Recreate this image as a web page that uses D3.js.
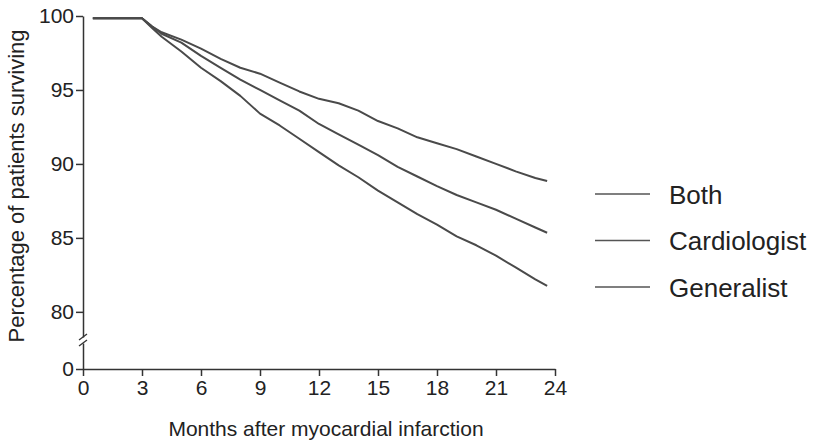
<!DOCTYPE html>
<html>
<head>
<meta charset="utf-8">
<script src="https://cdn.jsdelivr.net/npm/d3@7"></script>
<style>
  body { margin: 0; background: #fff; }
  text { font-family: "Liberation Sans", Arial, sans-serif; fill: #222; }
</style>
</head>
<body>
<div id="chart"></div>
<script>
// months after MI where the curves are sampled
var months = [0.5, 3, 3.5, 4, 5, 6, 7, 8, 9, 10, 11, 12, 13, 14, 15, 16, 17, 18, 19, 20, 21, 22, 23, 23.6];

var both = [99.85, 99.85, 99.3, 98.9, 98.4, 97.8, 97.1, 96.5, 96.1, 95.5, 94.9, 94.4, 94.1, 93.6, 92.9, 92.4, 91.8, 91.4, 91.0, 90.5, 90.0, 89.5, 89.05, 88.85];
var cardiologist = [99.85, 99.85, 99.3, 98.8, 98.2, 97.3, 96.5, 95.7, 95.0, 94.3, 93.6, 92.7, 92.0, 91.3, 90.6, 89.8, 89.15, 88.5, 87.9, 87.4, 86.9, 86.3, 85.7, 85.35];
var generalist = [99.85, 99.85, 99.2, 98.6, 97.6, 96.5, 95.6, 94.6, 93.4, 92.6, 91.7, 90.8, 89.9, 89.1, 88.2, 87.4, 86.6, 85.9, 85.1, 84.5, 83.8, 83.0, 82.2, 81.75];

var seriesNames = ["Both", "Cardiologist", "Generalist"];
var xTicks = [0, 3, 6, 9, 12, 15, 18, 21, 24];
var yTicks = [80, 85, 90, 95, 100];

var width = 815, height = 446;

var svg = d3.select("#chart")
    .append("svg")
    .attr("width", width)
    .attr("height", height);

// x scale and axis
var x = d3.scaleLinear()
    .domain([0, 24])
    .range([83, 555]);

// upper (broken) part of the y axis, and the little bit below the break for 0
var y = d3.scaleLinear()
    .domain([78.3, 100])
    .range([337, 16]);
var yLow = d3.scaleLinear()
    .domain([0, 1.75])
    .range([369, 343]);

var axisColor = "#333";

var gx = svg.append("g")
    .attr("transform", "translate(0,369)")
    .call(d3.axisBottom(x).tickValues(xTicks).tickSize(7).tickSizeOuter(0).tickPadding(4));

var gy = svg.append("g")
    .attr("transform", "translate(83,0)")
    .call(d3.axisLeft(y).tickValues(yTicks).tickSize(7).tickSizeOuter(0).tickPadding(2));

var gy0 = svg.append("g")
    .attr("transform", "translate(83,0)")
    .call(d3.axisLeft(yLow).tickValues([0]).tickFormat(d3.format("d"))
        .tickSize(7).tickSizeOuter(0).tickPadding(2));

[gx, gy, gy0].forEach(function (g) {
    g.selectAll("path, line").attr("stroke", axisColor).attr("stroke-width", 1.5);
    g.selectAll("text").attr("font-size", 21).attr("fill", "#222")
        .attr("font-family", "'Liberation Sans', Arial, sans-serif");
});

// axis break marks
[337, 343].forEach(function (yy) {
    svg.append("line")
        .attr("x1", 79).attr("y1", yy + 3)
        .attr("x2", 87).attr("y2", yy - 3)
        .attr("stroke", axisColor)
        .attr("stroke-width", 1.3);
});

// survival curves
var line = d3.line()
    .x(function (d) { return x(d[0]); })
    .y(function (d) { return y(d[1]); });

var allSeries = [both, cardiologist, generalist];

svg.append("g")
    .selectAll("path")
    .data(allSeries)
    .enter()
    .append("path")
    .attr("fill", "none")
    .attr("stroke", "#4a4a4a")
    .attr("stroke-width", 2)
    .attr("stroke-linejoin", "round")
    .attr("d", function (s) {
        return line(months.map(function (m, i) { return [m, s[i]]; }));
    });

// legend
var legendY = d3.scalePoint()
    .domain(seriesNames)
    .range([194, 287]);

var legend = svg.append("g")
    .selectAll("g")
    .data(seriesNames)
    .enter()
    .append("g")
    .attr("transform", function (d) { return "translate(0," + legendY(d) + ")"; });

legend.append("line")
    .attr("x1", 595).attr("x2", 650)
    .attr("stroke", "#555")
    .attr("stroke-width", 1.6);

legend.append("text")
    .attr("x", 669)
    .attr("y", 9.5)
    .attr("font-size", 26)
    .text(function (d) { return d; });

// axis titles
svg.append("text")
    .attr("x", 326)
    .attr("y", 436)
    .attr("text-anchor", "middle")
    .attr("font-size", 21)
    .text("Months after myocardial infarction");

svg.append("text")
    .attr("transform", "translate(23.5,186) rotate(-90)")
    .attr("text-anchor", "middle")
    .attr("font-size", 22)
    .text("Percentage of patients surviving");
</script>
</body>
</html>
